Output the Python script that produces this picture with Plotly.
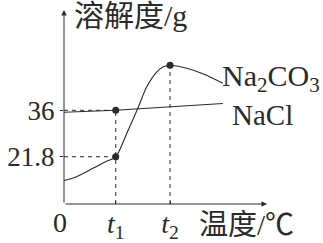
import plotly.graph_objects as go

# ---- data (schematic solubility curves) ----
t1 = 20
t2 = 41
na2co3_x = [0, 4.9, 11.2, 15.9, 20, 24.3, 28.4, 32, 35.9, 38.4, 41, 47.5, 53.9, 61.4]
na2co3_y = [14.5, 15.7, 18.25, 20.2, 21.8, 29.0, 36.3, 43.2, 47.8, 49.3, 49.8, 48.85, 47.1, 44.3]
nacl_x = [0, 20, 61.4]
nacl_y = [35.4, 36.0, 38.1]
y_ticks = [21.8, 36]
y_ticktext = ["21.8", "36"]
x_ticks = [t1, t2]
x_ticktext = ["<i>t</i><sub>1</sub>", "<i>t</i><sub>2</sub>"]
peak_val = 49.8

W, H = 323, 243
ML, MR, MT, MB = 64, 56, 10, 39
XR = [0, 78.5]
YR = [7.33, 66.7]

ink = "#2a2a2a"
serif = "Liberation Serif, Noto Sans CJK SC"

def px_to_paper(px, py):
    return (px - ML) / (W - ML - MR), (H - MB - py) / (H - MT - MB)

fig = go.Figure()

fig.add_trace(go.Scatter(x=na2co3_x, y=na2co3_y, mode="lines",
                         line=dict(color=ink, width=1.1, shape="spline", smoothing=0.8),
                         hoverinfo="skip", showlegend=False))
fig.add_trace(go.Scatter(x=nacl_x, y=nacl_y, mode="lines",
                         line=dict(color=ink, width=1.1),
                         hoverinfo="skip", showlegend=False))
fig.add_trace(go.Scatter(x=[t1, t1, t2], y=[36, 21.8, peak_val], mode="markers",
                         marker=dict(color=ink, size=7),
                         hoverinfo="skip", showlegend=False, cliponaxis=False))

dash = dict(color=ink, width=1, dash="4px,4px")
fig.add_shape(type="line", x0=XR[0], y0=36, x1=t1, y1=36, line=dash, layer="below")
fig.add_shape(type="line", x0=XR[0], y0=21.8, x1=t1, y1=21.8, line=dash, layer="below")
fig.add_shape(type="line", x0=t1, y0=YR[0], x1=t1, y1=36, line=dash, layer="below")
fig.add_shape(type="line", x0=t2, y0=YR[0], x1=t2, y1=peak_val, line=dash, layer="below")

# axes with arrows
for (x, y, ax, ay) in [(XR[1], YR[0], XR[0], YR[0]), (XR[0], YR[1], XR[0], YR[0])]:
    fig.add_annotation(x=x, y=y, ax=ax, ay=ay, xref="x", yref="y", axref="x", ayref="y",
                       text="", showarrow=True, arrowhead=2, arrowsize=1.1,
                       arrowwidth=1, arrowcolor=ink, standoff=0, startstandoff=0)

def label(text, px, py, size, anchor="left", vanchor="middle"):
    x, y = px_to_paper(px, py)
    fig.add_annotation(x=x, y=y, xref="paper", yref="paper", text=text, showarrow=False,
                       xanchor=anchor, yanchor=vanchor, borderpad=0,
                       font=dict(family=serif, size=size, color=ink))

label("溶解度/g", 73, 15, 30)
label("Na<sub>2</sub>CO<sub>3</sub>", 221, 78, 30)
label("NaCl", 231, 115, 29)
label("温度/℃", 198, 242, 29, vanchor="bottom")
label("0", 59.5, 222, 28, anchor="center")

fig.update_layout(
    width=W, height=H,
    margin=dict(l=ML, r=MR, t=MT, b=MB, autoexpand=False),
    paper_bgcolor="white", plot_bgcolor="white",
    xaxis=dict(range=XR, showgrid=False, zeroline=False, showline=False, automargin=False,
               tickvals=x_ticks, ticktext=x_ticktext, ticks="inside", ticklen=3,
               tickcolor=ink, tickfont=dict(family=serif, size=28, color=ink)),
    yaxis=dict(range=YR, showgrid=False, zeroline=False, showline=False, automargin=False,
               tickvals=y_ticks, ticktext=y_ticktext, ticks="outside", ticklen=3,
               tickcolor=ink, ticklabelstandoff=0,
               tickfont=dict(family=serif, size=27, color=ink)),
    showlegend=False,
)

fig.write_html("out.html")
